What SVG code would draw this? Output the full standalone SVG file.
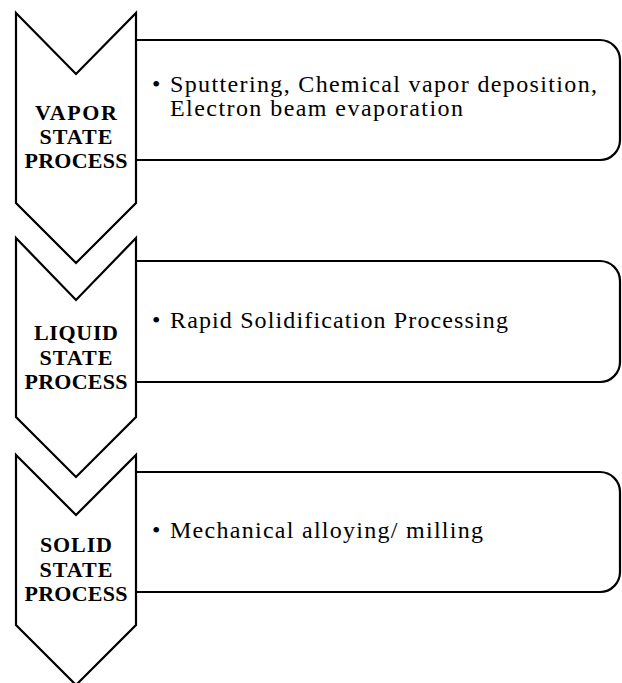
<svg xmlns="http://www.w3.org/2000/svg" width="622" height="683" viewBox="0 0 622 683">
<style>
.chev{fill:#fff;stroke:#000;stroke-width:2.2;stroke-linejoin:miter}
.box{fill:#fff;stroke:#000;stroke-width:2.2}
.lbl{font-family:"Liberation Serif",serif;font-weight:bold;font-size:22px;text-anchor:middle;fill:#000}
.txt{font-family:"Liberation Serif",serif;font-size:24px;fill:#000}
</style>
<rect width="622" height="683" fill="#fff"/>
<g id="connectors">
<path class="box" d="M136,40 H600 A20,20 0 0 1 620,60 V140 A20,20 0 0 1 600,160 H136"/>
<path class="box" d="M136,261 H600 A20,20 0 0 1 620,281 V362 A20,20 0 0 1 600,382 H136"/>
<path class="box" d="M136,472 H600 A20,20 0 0 1 620,492 V572 A20,20 0 0 1 600,592 H136"/>
</g>
<g id="vapor">
<polygon class="chev" points="16,13 76,74 136,13 136,203 76,263 16,203"/>
<text class="lbl" x="76" y="120" textLength="82">VAPOR</text>
<text class="lbl" x="76" y="144" textLength="73">STATE</text>
<text class="lbl" x="76" y="168" textLength="103">PROCESS</text>
</g>
<g id="liquid">
<polygon class="chev" points="16,238 76,300 136,238 136,417 76,477 16,417"/>
<text class="lbl" x="76" y="340" textLength="84">LIQUID</text>
<text class="lbl" x="76" y="365" textLength="73">STATE</text>
<text class="lbl" x="76" y="389" textLength="103">PROCESS</text>
</g>
<g id="solid">
<polygon class="chev" points="16,455 76,515 136,455 136,625 76,685 16,625"/>
<text class="lbl" x="76" y="552" textLength="72">SOLID</text>
<text class="lbl" x="76" y="577" textLength="73">STATE</text>
<text class="lbl" x="76" y="601" textLength="103">PROCESS</text>
</g>
<g id="vapor-desc">
<text class="txt" x="152" y="92">•</text>
<text class="txt" x="170" y="92" textLength="427">Sputtering, Chemical vapor deposition,</text>
<text class="txt" x="170" y="116" textLength="293">Electron beam evaporation</text>
</g>
<g id="liquid-desc">
<text class="txt" x="152" y="328">•</text>
<text class="txt" x="170" y="328" textLength="338">Rapid Solidification Processing</text>
</g>
<g id="solid-desc">
<text class="txt" x="152" y="538">•</text>
<text class="txt" x="170" y="538" textLength="313">Mechanical alloying/ milling</text>
</g>
</svg>
